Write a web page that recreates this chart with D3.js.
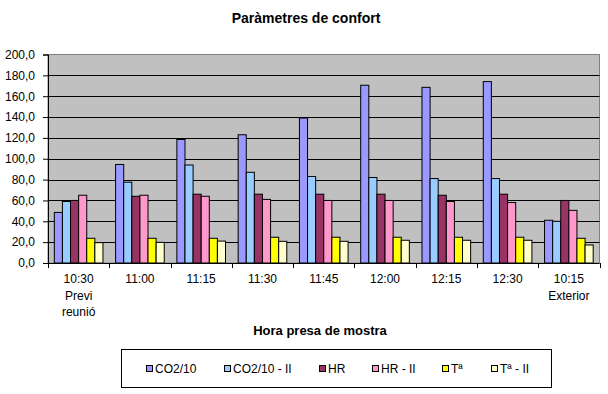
<!DOCTYPE html>
<html>
<head>
<meta charset="utf-8">
<script src="https://cdn.jsdelivr.net/npm/d3@7"></script>
<style>
  body { margin: 0; background: #fff; }
  svg { font-family: "Liberation Sans", Arial, sans-serif; }
</style>
</head>
<body>
<svg width="608" height="394"></svg>
<script>
// categories (multi-line labels)
const categories = ["10:30|Previ|reunió", "11:00", "11:15", "11:30", "11:45", "12:00", "12:15", "12:30", "10:15|Exterior"];
const seriesNames = ["CO2/10", "CO2/10 - II", "HR", "HR - II", "Tª", "Tª - II"];
const seriesColors = ["#9999FF", "#99CCFF", "#993366", "#FF99CC", "#FFFF00", "#FFFFCC"];

// values per series, in category order
const co2 = [48.5, 94.5, 118.5, 123.0, 139.0, 170.5, 168.5, 174.0, 41.0];
const co2II = [59.0, 77.5, 94.0, 87.0, 83.0, 82.0, 81.0, 81.0, 40.0];
const hr = [60.0, 64.0, 66.0, 66.0, 66.0, 66.0, 65.0, 66.0, 60.0];
const hrII = [65.0, 65.0, 64.0, 61.0, 60.0, 60.0, 59.0, 58.0, 50.5];
const temp = [23.7, 23.7, 23.7, 24.7, 24.7, 24.7, 24.7, 24.7, 23.7];
const tempII = [19.5, 19.8, 21.0, 20.8, 20.8, 21.8, 21.8, 21.8, 17.3];
const yTicks = [0, 20, 40, 60, 80, 100, 120, 140, 160, 180, 200];

const allSeries = [co2, co2II, hr, hrII, temp, tempII];

const svg = d3.select("svg");
const plot = { left: 48, right: 599.5, top: 54.5, bottom: 263 };

const x = d3.scaleBand().domain(categories).range([plot.left, plot.right]).padding(0);
const xs = d3.scaleBand().domain(d3.range(seriesNames.length))
  .range([0, x.bandwidth()]).paddingInner(0).paddingOuter(0.78);
const y = d3.scaleLinear().domain([0, 200]).range([plot.bottom, plot.top]);

// title
svg.append("text").attr("x", 306).attr("y", 23).attr("text-anchor", "middle")
  .attr("font-weight", "bold").attr("font-size", 14).text("Paràmetres de confort");

// plot background
svg.append("rect").attr("x", plot.left).attr("y", plot.top)
  .attr("width", plot.right - plot.left).attr("height", plot.bottom - plot.top)
  .attr("fill", "#C0C0C0").attr("stroke", "#808080");

// gridlines
svg.append("g").selectAll("line").data(yTicks.filter(t => t > 0 && t < 200)).enter()
  .append("line")
  .attr("x1", plot.left).attr("x2", plot.right)
  .attr("y1", d => Math.round(y(d)) + 0.5).attr("y2", d => Math.round(y(d)) + 0.5)
  .attr("stroke", "#000").attr("stroke-width", 1);

// bars
const groups = svg.append("g").selectAll("g").data(categories).enter().append("g")
  .attr("transform", d => `translate(${x(d)},0)`);
groups.selectAll("rect").data((d, i) => allSeries.map((s, k) => ({ k, v: s[i] }))).enter()
  .append("rect")
  .attr("x", d => xs(d.k))
  .attr("y", d => y(d.v))
  .attr("width", xs.bandwidth())
  .attr("height", d => y(0) - y(d.v))
  .attr("fill", d => seriesColors[d.k])
  .attr("stroke", "#000").attr("stroke-width", 1);

// y axis
const yAxis = svg.append("g").attr("transform", `translate(${plot.left},0)`)
  .call(d3.axisLeft(y).tickValues(yTicks).tickSize(5).tickPadding(8)
    .tickFormat(d => d3.format(".1f")(d).replace(".", ",")));
yAxis.selectAll("text").attr("font-size", 12).attr("fill", "#000")
  .attr("font-family", "Liberation Sans, Arial, sans-serif");
yAxis.selectAll("line, path").attr("stroke", "#000");

// x axis
svg.append("line").attr("x1", plot.left).attr("x2", plot.right)
  .attr("y1", plot.bottom + 0.5).attr("y2", plot.bottom + 0.5).attr("stroke", "#000");
svg.append("g").selectAll("line").data(d3.range(categories.length + 1)).enter()
  .append("line")
  .attr("x1", i => Math.round(plot.left + i * x.step()) + 0.5)
  .attr("x2", i => Math.round(plot.left + i * x.step()) + 0.5)
  .attr("y1", plot.bottom).attr("y2", plot.bottom + 5).attr("stroke", "#000");

const xl = svg.append("g").selectAll("text").data(categories).enter().append("text")
  .attr("text-anchor", "middle").attr("font-size", 12)
  .attr("x", d => x(d) + x.bandwidth() / 2).attr("y", 283);
xl.selectAll("tspan").data(d => d.split("|")).enter().append("tspan")
  .attr("x", function () { return d3.select(this.parentNode).attr("x"); })
  .attr("dy", (d, i) => i === 0 ? 0 : 16.5)
  .text(d => d);

// x axis title
svg.append("text").attr("x", 320).attr("y", 335).attr("text-anchor", "middle")
  .attr("font-weight", "bold").attr("font-size", 13).text("Hora presa de mostra");

// legend
svg.append("rect").attr("x", 121.5).attr("y", 349.5).attr("width", 430).attr("height", 38)
  .attr("fill", "#fff").attr("stroke", "#000");
const legendX = [146, 224, 319, 372, 442, 491];
const lg = svg.append("g").selectAll("g").data(seriesNames).enter().append("g")
  .attr("transform", (d, i) => `translate(${legendX[i]},0)`);
lg.append("rect").attr("x", 0.5).attr("y", 365.5).attr("width", 6).attr("height", 6)
  .attr("fill", (d, i) => seriesColors[i]).attr("stroke", "#000");
lg.append("text").attr("x", 9).attr("y", 373).attr("font-size", 12).text(d => d);
</script>
</body>
</html>
